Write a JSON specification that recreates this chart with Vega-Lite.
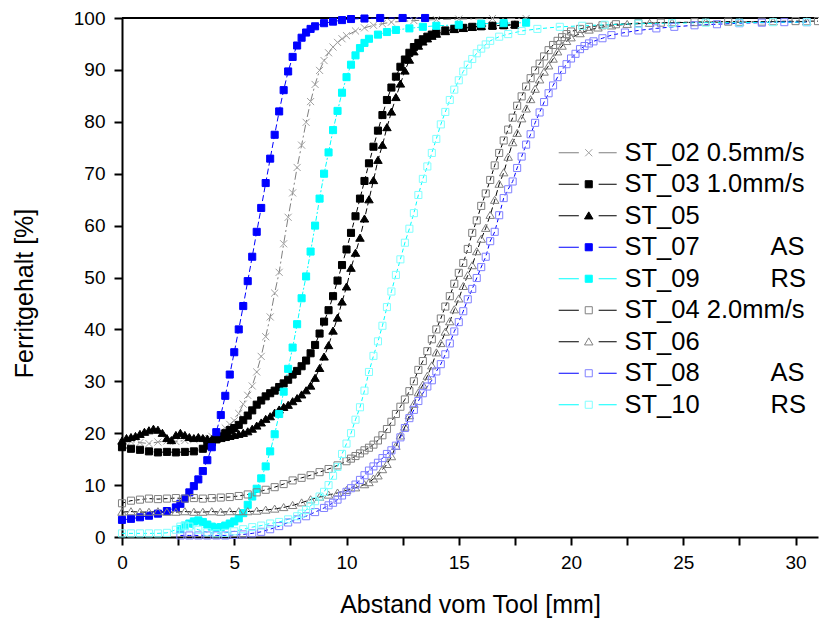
{
"$schema":"https://vega.github.io/schema/vega-lite/v6.json",
"width":696,"height":519,
"autosize":{"type":"none"},
"padding":{"left":122,"top":18,"right":1,"bottom":86},
"background":"white",
"config":{"font":"Liberation Sans","view":{"stroke":null},
"axis":{"domainColor":"black","domainWidth":2,"tickColor":"black","tickWidth":2,"labelColor":"black","titleColor":"black","labelFontSize":19,"titleFontSize":25,"titleFontWeight":"normal","grid":false,"labelFlush":false,"labelOverlap":false}},
"datasets":{"pts":[
{"s":2,"x":0,"y":18.2},{"s":2,"x":0.4,"y":18.4},{"s":2,"x":0.8,"y":18.2},{"s":2,"x":1.2,"y":18.0},{"s":2,"x":1.6,"y":18.3},{"s":2,"x":2.0,"y":18.5},{"s":2,"x":2.4,"y":18.4},{"s":2,"x":2.8,"y":18.6},{"s":2,"x":3.2,"y":18.8},{"s":2,"x":3.6,"y":19.0},{"s":2,"x":4.0,"y":19.4},{"s":2,"x":4.2,"y":19.8},{"s":2,"x":4.4,"y":20.4},{"s":2,"x":4.6,"y":21.0},{"s":2,"x":4.8,"y":21.7},{"s":2,"x":5.0,"y":22.4},{"s":2,"x":5.2,"y":23.8},{"s":2,"x":5.4,"y":25.6},{"s":2,"x":5.6,"y":27.3},{"s":2,"x":5.8,"y":29.1},{"s":2,"x":6.0,"y":31.8},{"s":2,"x":6.2,"y":34.8},{"s":2,"x":6.4,"y":38.6},{"s":2,"x":6.6,"y":42.4},{"s":2,"x":6.8,"y":47.0},{"s":2,"x":7.0,"y":51.0},{"s":2,"x":7.2,"y":56.5},{"s":2,"x":7.4,"y":61.6},{"s":2,"x":7.6,"y":66.3},{"s":2,"x":7.8,"y":71.2},{"s":2,"x":8.0,"y":75.5},{"s":2,"x":8.2,"y":79.9},{"s":2,"x":8.4,"y":83.9},{"s":2,"x":8.6,"y":87.2},{"s":2,"x":8.8,"y":89.9},{"s":2,"x":9.0,"y":91.8},{"s":2,"x":9.2,"y":93.3},{"s":2,"x":9.4,"y":94.4},{"s":2,"x":9.6,"y":95.3},{"s":2,"x":9.8,"y":96.0},{"s":2,"x":10.0,"y":96.6},{"s":2,"x":10.4,"y":97.5},{"s":2,"x":10.8,"y":98.1},{"s":2,"x":11.2,"y":98.6},{"s":2,"x":11.6,"y":98.9},{"s":2,"x":12.0,"y":99.2},{"s":2,"x":13,"y":99.5},{"s":2,"x":14,"y":99.7},{"s":2,"x":15,"y":99.8},{"s":2,"x":16.5,"y":99.9},{"s":2,"x":18,"y":99.9},
{"s":3,"x":0,"y":17.3},{"s":3,"x":0.4,"y":17.0},{"s":3,"x":0.8,"y":16.8},{"s":3,"x":1.2,"y":16.5},{"s":3,"x":1.6,"y":16.3},{"s":3,"x":2.0,"y":16.4},{"s":3,"x":2.4,"y":16.3},{"s":3,"x":2.8,"y":16.4},{"s":3,"x":3.2,"y":16.5},{"s":3,"x":3.6,"y":17.0},{"s":3,"x":3.8,"y":17.6},{"s":3,"x":4.0,"y":18.2},{"s":3,"x":4.2,"y":18.8},{"s":3,"x":4.4,"y":19.4},{"s":3,"x":4.6,"y":20.0},{"s":3,"x":4.8,"y":20.6},{"s":3,"x":5.0,"y":21.0},{"s":3,"x":5.2,"y":21.6},{"s":3,"x":5.4,"y":22.5},{"s":3,"x":5.6,"y":23.4},{"s":3,"x":5.8,"y":24.4},{"s":3,"x":6.0,"y":25.5},{"s":3,"x":6.2,"y":26.3},{"s":3,"x":6.4,"y":27.1},{"s":3,"x":6.6,"y":27.7},{"s":3,"x":6.8,"y":28.2},{"s":3,"x":7.0,"y":28.9},{"s":3,"x":7.2,"y":29.6},{"s":3,"x":7.4,"y":30.3},{"s":3,"x":7.6,"y":31.3},{"s":3,"x":7.8,"y":32.0},{"s":3,"x":8.0,"y":32.9},{"s":3,"x":8.2,"y":34.0},{"s":3,"x":8.4,"y":35.4},{"s":3,"x":8.6,"y":37.0},{"s":3,"x":8.8,"y":39.2},{"s":3,"x":9.0,"y":41.5},{"s":3,"x":9.2,"y":43.7},{"s":3,"x":9.4,"y":46.4},{"s":3,"x":9.6,"y":49.4},{"s":3,"x":9.8,"y":52.4},{"s":3,"x":10.0,"y":55.4},{"s":3,"x":10.2,"y":58.6},{"s":3,"x":10.4,"y":61.8},{"s":3,"x":10.6,"y":65.2},{"s":3,"x":10.8,"y":68.6},{"s":3,"x":11.0,"y":72.0},{"s":3,"x":11.2,"y":75.2},{"s":3,"x":11.4,"y":78.3},{"s":3,"x":11.6,"y":81.3},{"s":3,"x":11.8,"y":84.2},{"s":3,"x":12.0,"y":86.6},{"s":3,"x":12.2,"y":88.7},{"s":3,"x":12.4,"y":90.6},{"s":3,"x":12.6,"y":92.0},{"s":3,"x":12.8,"y":93.3},{"s":3,"x":13.0,"y":94.4},{"s":3,"x":13.2,"y":95.2},{"s":3,"x":13.4,"y":95.9},{"s":3,"x":13.6,"y":96.4},{"s":3,"x":13.8,"y":96.8},{"s":3,"x":14.0,"y":97.1},{"s":3,"x":14.4,"y":97.6},{"s":3,"x":14.8,"y":97.9},{"s":3,"x":15.2,"y":98.1},{"s":3,"x":15.6,"y":98.3},{"s":3,"x":16.0,"y":98.4},{"s":3,"x":16.5,"y":98.5},{"s":3,"x":17.0,"y":98.6},{"s":3,"x":17.5,"y":98.7},
{"s":5,"x":0,"y":18.5},{"s":5,"x":0.2,"y":19.0},{"s":5,"x":0.4,"y":19.2},{"s":5,"x":0.6,"y":19.4},{"s":5,"x":0.8,"y":19.8},{"s":5,"x":1.0,"y":20.2},{"s":5,"x":1.2,"y":20.5},{"s":5,"x":1.4,"y":20.8},{"s":5,"x":1.6,"y":20.6},{"s":5,"x":1.8,"y":20.0},{"s":5,"x":2.0,"y":19.0},{"s":5,"x":2.2,"y":18.6},{"s":5,"x":2.4,"y":19.6},{"s":5,"x":2.6,"y":20.0},{"s":5,"x":2.8,"y":19.6},{"s":5,"x":3.0,"y":19.2},{"s":5,"x":3.2,"y":19.0},{"s":5,"x":3.4,"y":19.2},{"s":5,"x":3.6,"y":19.0},{"s":5,"x":3.8,"y":18.9},{"s":5,"x":4.0,"y":18.8},{"s":5,"x":4.2,"y":18.9},{"s":5,"x":4.4,"y":19.0},{"s":5,"x":4.6,"y":19.2},{"s":5,"x":4.8,"y":19.4},{"s":5,"x":5.0,"y":19.6},{"s":5,"x":5.2,"y":19.8},{"s":5,"x":5.4,"y":20.0},{"s":5,"x":5.6,"y":20.3},{"s":5,"x":5.8,"y":20.8},{"s":5,"x":6.0,"y":21.4},{"s":5,"x":6.2,"y":22.0},{"s":5,"x":6.4,"y":22.7},{"s":5,"x":6.6,"y":23.2},{"s":5,"x":6.8,"y":23.9},{"s":5,"x":7.0,"y":24.5},{"s":5,"x":7.2,"y":25.0},{"s":5,"x":7.4,"y":25.4},{"s":5,"x":7.6,"y":26.1},{"s":5,"x":7.8,"y":26.7},{"s":5,"x":8.0,"y":27.4},{"s":5,"x":8.2,"y":28.2},{"s":5,"x":8.4,"y":29.1},{"s":5,"x":8.6,"y":30.6},{"s":5,"x":8.8,"y":32.5},{"s":5,"x":9.0,"y":34.7},{"s":5,"x":9.2,"y":36.9},{"s":5,"x":9.4,"y":39.7},{"s":5,"x":9.6,"y":42.2},{"s":5,"x":9.8,"y":45.3},{"s":5,"x":10.0,"y":48.2},{"s":5,"x":10.2,"y":51.8},{"s":5,"x":10.4,"y":54.7},{"s":5,"x":10.6,"y":57.6},{"s":5,"x":10.8,"y":61.3},{"s":5,"x":11.0,"y":65.0},{"s":5,"x":11.2,"y":68.7},{"s":5,"x":11.4,"y":72.6},{"s":5,"x":11.6,"y":75.5},{"s":5,"x":11.8,"y":78.9},{"s":5,"x":12.0,"y":81.9},{"s":5,"x":12.2,"y":84.7},{"s":5,"x":12.4,"y":87.3},{"s":5,"x":12.6,"y":89.8},{"s":5,"x":12.8,"y":91.9},{"s":5,"x":13.0,"y":93.5},{"s":5,"x":13.2,"y":94.6},{"s":5,"x":13.4,"y":95.4},{"s":5,"x":13.6,"y":96.0},{"s":5,"x":13.8,"y":96.5},{"s":5,"x":14.0,"y":96.9},{"s":5,"x":14.4,"y":97.4},{"s":5,"x":14.8,"y":97.8},{"s":5,"x":15.2,"y":98.0},{"s":5,"x":15.6,"y":98.2},{"s":5,"x":16.0,"y":98.4},{"s":5,"x":16.5,"y":98.5},{"s":5,"x":17.0,"y":98.6},{"s":5,"x":17.5,"y":98.7},
{"s":7,"x":0,"y":3.3},{"s":7,"x":0.4,"y":3.5},{"s":7,"x":0.8,"y":3.8},{"s":7,"x":1.2,"y":4.1},{"s":7,"x":1.6,"y":4.5},{"s":7,"x":2.0,"y":5.0},{"s":7,"x":2.4,"y":5.7},{"s":7,"x":2.6,"y":6.4},{"s":7,"x":2.8,"y":7.4},{"s":7,"x":3.0,"y":8.6},{"s":7,"x":3.2,"y":9.8},{"s":7,"x":3.4,"y":11.1},{"s":7,"x":3.6,"y":12.7},{"s":7,"x":3.8,"y":14.8},{"s":7,"x":4.0,"y":17.3},{"s":7,"x":4.2,"y":20.2},{"s":7,"x":4.4,"y":23.5},{"s":7,"x":4.6,"y":27.2},{"s":7,"x":4.8,"y":31.3},{"s":7,"x":5.0,"y":35.6},{"s":7,"x":5.2,"y":40.0},{"s":7,"x":5.4,"y":44.5},{"s":7,"x":5.6,"y":49.3},{"s":7,"x":5.8,"y":54.0},{"s":7,"x":6.0,"y":58.8},{"s":7,"x":6.2,"y":63.4},{"s":7,"x":6.4,"y":68.2},{"s":7,"x":6.6,"y":72.9},{"s":7,"x":6.8,"y":77.5},{"s":7,"x":7.0,"y":82.0},{"s":7,"x":7.2,"y":86.1},{"s":7,"x":7.4,"y":89.7},{"s":7,"x":7.6,"y":92.5},{"s":7,"x":7.8,"y":94.7},{"s":7,"x":8.0,"y":96.2},{"s":7,"x":8.2,"y":97.2},{"s":7,"x":8.4,"y":97.9},{"s":7,"x":8.6,"y":98.4},{"s":7,"x":9.0,"y":99.0},{"s":7,"x":9.4,"y":99.3},{"s":7,"x":9.8,"y":99.6},{"s":7,"x":10.2,"y":99.8},{"s":7,"x":10.8,"y":99.9},{"s":7,"x":11.5,"y":100},{"s":7,"x":12.5,"y":100},{"s":7,"x":13.5,"y":100},
{"s":9,"x":2.6,"y":1.5},{"s":9,"x":2.8,"y":2.2},{"s":9,"x":3.0,"y":2.6},{"s":9,"x":3.2,"y":3.0},{"s":9,"x":3.4,"y":3.2},{"s":9,"x":3.6,"y":2.9},{"s":9,"x":3.8,"y":2.4},{"s":9,"x":4.0,"y":2.0},{"s":9,"x":4.2,"y":1.8},{"s":9,"x":4.4,"y":1.9},{"s":9,"x":4.6,"y":2.2},{"s":9,"x":4.8,"y":2.6},{"s":9,"x":5.0,"y":3.0},{"s":9,"x":5.2,"y":3.6},{"s":9,"x":5.4,"y":4.6},{"s":9,"x":5.6,"y":6.2},{"s":9,"x":5.8,"y":7.8},{"s":9,"x":6.0,"y":9.3},{"s":9,"x":6.2,"y":11.3},{"s":9,"x":6.4,"y":13.6},{"s":9,"x":6.6,"y":16.5},{"s":9,"x":6.8,"y":19.8},{"s":9,"x":7.0,"y":23.7},{"s":9,"x":7.2,"y":28.0},{"s":9,"x":7.4,"y":32.4},{"s":9,"x":7.6,"y":36.5},{"s":9,"x":7.8,"y":41.0},{"s":9,"x":8.0,"y":46.0},{"s":9,"x":8.2,"y":50.2},{"s":9,"x":8.4,"y":55.0},{"s":9,"x":8.6,"y":60.0},{"s":9,"x":8.8,"y":65.2},{"s":9,"x":9.0,"y":70.0},{"s":9,"x":9.2,"y":74.1},{"s":9,"x":9.4,"y":78.4},{"s":9,"x":9.6,"y":82.1},{"s":9,"x":9.8,"y":85.6},{"s":9,"x":10.0,"y":88.6},{"s":9,"x":10.2,"y":91.0},{"s":9,"x":10.4,"y":92.8},{"s":9,"x":10.6,"y":94.2},{"s":9,"x":10.8,"y":95.2},{"s":9,"x":11.0,"y":96.0},{"s":9,"x":11.4,"y":96.8},{"s":9,"x":11.8,"y":97.3},{"s":9,"x":12.2,"y":97.7},{"s":9,"x":12.8,"y":98.0},{"s":9,"x":13.4,"y":98.3},{"s":9,"x":14.0,"y":98.5},{"s":9,"x":15,"y":98.7},{"s":9,"x":16,"y":98.9},{"s":9,"x":17,"y":99.0},{"s":9,"x":18,"y":99.1},
{"s":4,"x":0,"y":6.5},{"s":4,"x":0.4,"y":7.0},{"s":4,"x":0.8,"y":7.2},{"s":4,"x":1.2,"y":7.4},{"s":4,"x":1.6,"y":7.3},{"s":4,"x":2.0,"y":7.4},{"s":4,"x":2.4,"y":7.5},{"s":4,"x":2.8,"y":7.4},{"s":4,"x":3.2,"y":7.5},{"s":4,"x":3.6,"y":7.4},{"s":4,"x":4.0,"y":7.5},{"s":4,"x":4.4,"y":7.6},{"s":4,"x":4.8,"y":7.7},{"s":4,"x":5.2,"y":7.9},{"s":4,"x":5.6,"y":8.2},{"s":4,"x":6.0,"y":8.6},{"s":4,"x":6.4,"y":9.1},{"s":4,"x":6.8,"y":9.6},{"s":4,"x":7.2,"y":10.2},{"s":4,"x":7.6,"y":10.9},{"s":4,"x":8.0,"y":11.4},{"s":4,"x":8.4,"y":11.9},{"s":4,"x":8.8,"y":12.5},{"s":4,"x":9.2,"y":13.1},{"s":4,"x":9.6,"y":13.8},{"s":4,"x":10.0,"y":14.6},{"s":4,"x":10.2,"y":15.1},{"s":4,"x":10.4,"y":15.6},{"s":4,"x":10.6,"y":16.1},{"s":4,"x":10.8,"y":16.7},{"s":4,"x":11.0,"y":17.2},{"s":4,"x":11.2,"y":17.8},{"s":4,"x":11.4,"y":18.6},{"s":4,"x":11.6,"y":19.6},{"s":4,"x":11.8,"y":20.8},{"s":4,"x":12.0,"y":22.2},{"s":4,"x":12.2,"y":23.7},{"s":4,"x":12.4,"y":25.1},{"s":4,"x":12.6,"y":26.5},{"s":4,"x":12.8,"y":28.1},{"s":4,"x":13.0,"y":30.0},{"s":4,"x":13.2,"y":32.2},{"s":4,"x":13.4,"y":33.9},{"s":4,"x":13.6,"y":35.8},{"s":4,"x":13.8,"y":38.1},{"s":4,"x":14.0,"y":40.0},{"s":4,"x":14.2,"y":42.1},{"s":4,"x":14.4,"y":44.4},{"s":4,"x":14.6,"y":46.4},{"s":4,"x":14.8,"y":48.8},{"s":4,"x":15.0,"y":50.9},{"s":4,"x":15.2,"y":52.8},{"s":4,"x":15.4,"y":55.5},{"s":4,"x":15.6,"y":58.6},{"s":4,"x":15.8,"y":61.0},{"s":4,"x":16.0,"y":63.8},{"s":4,"x":16.2,"y":66.2},{"s":4,"x":16.4,"y":68.8},{"s":4,"x":16.6,"y":71.6},{"s":4,"x":16.8,"y":74.0},{"s":4,"x":17.0,"y":76.4},{"s":4,"x":17.2,"y":78.5},{"s":4,"x":17.4,"y":80.8},{"s":4,"x":17.6,"y":83.1},{"s":4,"x":17.8,"y":84.9},{"s":4,"x":18.0,"y":86.8},{"s":4,"x":18.2,"y":88.4},{"s":4,"x":18.4,"y":89.9},{"s":4,"x":18.6,"y":91.2},{"s":4,"x":18.8,"y":92.6},{"s":4,"x":19.0,"y":93.8},{"s":4,"x":19.2,"y":94.8},{"s":4,"x":19.4,"y":95.6},{"s":4,"x":19.6,"y":96.3},{"s":4,"x":19.8,"y":96.9},{"s":4,"x":20.0,"y":97.4},{"s":4,"x":20.4,"y":97.9},{"s":4,"x":20.8,"y":98.3},{"s":4,"x":21.4,"y":98.6},{"s":4,"x":22,"y":98.8},{"s":4,"x":23,"y":99.0},{"s":4,"x":24,"y":99.1},{"s":4,"x":25.5,"y":99.2},{"s":4,"x":27,"y":99.3},{"s":4,"x":28.5,"y":99.3},{"s":4,"x":30,"y":99.4},{"s":4,"x":31,"y":99.4},
{"s":6,"x":0,"y":4.8},{"s":6,"x":0.4,"y":4.9},{"s":6,"x":0.8,"y":4.8},{"s":6,"x":1.2,"y":4.8},{"s":6,"x":1.6,"y":4.9},{"s":6,"x":2.0,"y":4.8},{"s":6,"x":2.4,"y":4.8},{"s":6,"x":2.8,"y":4.9},{"s":6,"x":3.2,"y":4.8},{"s":6,"x":3.6,"y":4.8},{"s":6,"x":4.0,"y":4.9},{"s":6,"x":4.4,"y":4.8},{"s":6,"x":4.8,"y":4.9},{"s":6,"x":5.2,"y":4.9},{"s":6,"x":5.6,"y":4.9},{"s":6,"x":6.0,"y":5.0},{"s":6,"x":6.4,"y":5.2},{"s":6,"x":6.8,"y":5.4},{"s":6,"x":7.2,"y":5.7},{"s":6,"x":7.6,"y":6.1},{"s":6,"x":8.0,"y":6.6},{"s":6,"x":8.4,"y":7.2},{"s":6,"x":8.8,"y":7.7},{"s":6,"x":9.2,"y":8.1},{"s":6,"x":9.6,"y":8.5},{"s":6,"x":10.0,"y":9.0},{"s":6,"x":10.4,"y":9.5},{"s":6,"x":10.8,"y":10.1},{"s":6,"x":11.0,"y":10.5},{"s":6,"x":11.2,"y":11.2},{"s":6,"x":11.4,"y":11.8},{"s":6,"x":11.6,"y":13.0},{"s":6,"x":11.8,"y":14.0},{"s":6,"x":12.0,"y":15.5},{"s":6,"x":12.2,"y":17.5},{"s":6,"x":12.4,"y":19.5},{"s":6,"x":12.6,"y":21.2},{"s":6,"x":12.8,"y":23.4},{"s":6,"x":13.0,"y":25.6},{"s":6,"x":13.2,"y":27.8},{"s":6,"x":13.4,"y":29.3},{"s":6,"x":13.6,"y":31.0},{"s":6,"x":13.8,"y":33.0},{"s":6,"x":14.0,"y":35.5},{"s":6,"x":14.2,"y":37.3},{"s":6,"x":14.4,"y":39.5},{"s":6,"x":14.6,"y":41.5},{"s":6,"x":14.8,"y":43.8},{"s":6,"x":15.0,"y":45.9},{"s":6,"x":15.2,"y":48.3},{"s":6,"x":15.4,"y":50.4},{"s":6,"x":15.6,"y":52.3},{"s":6,"x":15.8,"y":55.0},{"s":6,"x":16.0,"y":57.4},{"s":6,"x":16.2,"y":59.5},{"s":6,"x":16.4,"y":62.0},{"s":6,"x":16.6,"y":64.9},{"s":6,"x":16.8,"y":68.0},{"s":6,"x":17.0,"y":70.2},{"s":6,"x":17.2,"y":73.2},{"s":6,"x":17.4,"y":76.0},{"s":6,"x":17.6,"y":77.8},{"s":6,"x":17.8,"y":80.6},{"s":6,"x":18.0,"y":82.5},{"s":6,"x":18.2,"y":84.3},{"s":6,"x":18.4,"y":86.3},{"s":6,"x":18.6,"y":88.1},{"s":6,"x":18.8,"y":89.6},{"s":6,"x":19.0,"y":90.8},{"s":6,"x":19.2,"y":92.1},{"s":6,"x":19.4,"y":93.5},{"s":6,"x":19.6,"y":94.6},{"s":6,"x":19.8,"y":95.5},{"s":6,"x":20.0,"y":96.2},{"s":6,"x":20.4,"y":97.0},{"s":6,"x":20.8,"y":97.7},{"s":6,"x":21.2,"y":98.1},{"s":6,"x":21.8,"y":98.5},{"s":6,"x":22.5,"y":98.8},{"s":6,"x":23.5,"y":99.0},{"s":6,"x":24.5,"y":99.1},{"s":6,"x":26,"y":99.2},{"s":6,"x":27.5,"y":99.2},{"s":6,"x":29,"y":99.3},{"s":6,"x":30.5,"y":99.3},
{"s":8,"x":2.6,"y":0.3},{"s":8,"x":3.0,"y":0.3},{"s":8,"x":3.4,"y":0.3},{"s":8,"x":3.8,"y":0.3},{"s":8,"x":4.2,"y":0.3},{"s":8,"x":4.6,"y":0.3},{"s":8,"x":5.0,"y":0.4},{"s":8,"x":5.4,"y":0.5},{"s":8,"x":5.8,"y":0.7},{"s":8,"x":6.2,"y":1.0},{"s":8,"x":6.6,"y":1.5},{"s":8,"x":7.0,"y":2.1},{"s":8,"x":7.4,"y":2.8},{"s":8,"x":7.8,"y":3.4},{"s":8,"x":8.2,"y":4.0},{"s":8,"x":8.6,"y":4.8},{"s":8,"x":9.0,"y":5.6},{"s":8,"x":9.2,"y":6.1},{"s":8,"x":9.4,"y":6.6},{"s":8,"x":9.6,"y":7.2},{"s":8,"x":9.8,"y":8.0},{"s":8,"x":10.0,"y":8.7},{"s":8,"x":10.2,"y":9.4},{"s":8,"x":10.4,"y":10.1},{"s":8,"x":10.6,"y":11.0},{"s":8,"x":10.8,"y":11.9},{"s":8,"x":11.0,"y":12.8},{"s":8,"x":11.2,"y":13.6},{"s":8,"x":11.4,"y":14.3},{"s":8,"x":11.6,"y":15.2},{"s":8,"x":11.8,"y":16.0},{"s":8,"x":12.0,"y":16.7},{"s":8,"x":12.2,"y":17.6},{"s":8,"x":12.4,"y":19.2},{"s":8,"x":12.6,"y":21.0},{"s":8,"x":12.8,"y":22.9},{"s":8,"x":13.0,"y":24.5},{"s":8,"x":13.2,"y":26.2},{"s":8,"x":13.4,"y":27.7},{"s":8,"x":13.6,"y":29.0},{"s":8,"x":13.8,"y":30.2},{"s":8,"x":14.0,"y":31.9},{"s":8,"x":14.2,"y":33.3},{"s":8,"x":14.4,"y":35.2},{"s":8,"x":14.6,"y":37.3},{"s":8,"x":14.8,"y":39.6},{"s":8,"x":15.0,"y":41.4},{"s":8,"x":15.2,"y":43.5},{"s":8,"x":15.4,"y":45.8},{"s":8,"x":15.6,"y":47.8},{"s":8,"x":15.8,"y":49.9},{"s":8,"x":16.0,"y":52.0},{"s":8,"x":16.2,"y":54.0},{"s":8,"x":16.4,"y":57.0},{"s":8,"x":16.6,"y":58.8},{"s":8,"x":16.8,"y":62.0},{"s":8,"x":17.0,"y":65.3},{"s":8,"x":17.2,"y":67.0},{"s":8,"x":17.4,"y":68.5},{"s":8,"x":17.6,"y":71.1},{"s":8,"x":17.8,"y":73.3},{"s":8,"x":18.0,"y":75.6},{"s":8,"x":18.2,"y":77.6},{"s":8,"x":18.4,"y":79.8},{"s":8,"x":18.6,"y":81.8},{"s":8,"x":18.8,"y":83.8},{"s":8,"x":19.0,"y":85.5},{"s":8,"x":19.2,"y":87.0},{"s":8,"x":19.4,"y":88.6},{"s":8,"x":19.6,"y":90.0},{"s":8,"x":19.8,"y":91.1},{"s":8,"x":20.0,"y":92.2},{"s":8,"x":20.2,"y":93.1},{"s":8,"x":20.4,"y":94.0},{"s":8,"x":20.6,"y":94.6},{"s":8,"x":20.8,"y":95.1},{"s":8,"x":21.0,"y":95.5},{"s":8,"x":21.4,"y":96.1},{"s":8,"x":21.8,"y":96.7},{"s":8,"x":22.4,"y":97.2},{"s":8,"x":23,"y":97.6},{"s":8,"x":23.8,"y":98.0},{"s":8,"x":24.6,"y":98.3},{"s":8,"x":25.5,"y":98.6},{"s":8,"x":26.5,"y":98.8},{"s":8,"x":27.5,"y":99.0},{"s":8,"x":28.5,"y":99.1},{"s":8,"x":29.5,"y":99.2},{"s":8,"x":30.5,"y":99.2},
{"s":10,"x":0,"y":0.7},{"s":10,"x":0.4,"y":0.7},{"s":10,"x":0.8,"y":0.7},{"s":10,"x":1.2,"y":0.7},{"s":10,"x":1.6,"y":0.7},{"s":10,"x":2.0,"y":0.8},{"s":10,"x":2.4,"y":1.4},{"s":10,"x":2.6,"y":2.0},{"s":10,"x":2.8,"y":2.2},{"s":10,"x":3.0,"y":2.0},{"s":10,"x":3.4,"y":1.4},{"s":10,"x":3.8,"y":0.9},{"s":10,"x":4.2,"y":0.7},{"s":10,"x":4.6,"y":0.8},{"s":10,"x":5.0,"y":1.1},{"s":10,"x":5.4,"y":1.5},{"s":10,"x":5.8,"y":1.9},{"s":10,"x":6.2,"y":2.2},{"s":10,"x":6.6,"y":2.6},{"s":10,"x":7.0,"y":2.9},{"s":10,"x":7.4,"y":3.4},{"s":10,"x":7.8,"y":4.0},{"s":10,"x":8.0,"y":4.5},{"s":10,"x":8.2,"y":5.2},{"s":10,"x":8.4,"y":6.0},{"s":10,"x":8.6,"y":6.9},{"s":10,"x":8.8,"y":7.8},{"s":10,"x":9.0,"y":8.7},{"s":10,"x":9.2,"y":10.0},{"s":10,"x":9.4,"y":11.8},{"s":10,"x":9.6,"y":13.5},{"s":10,"x":9.8,"y":16.0},{"s":10,"x":10.0,"y":18.0},{"s":10,"x":10.2,"y":20.0},{"s":10,"x":10.4,"y":22.6},{"s":10,"x":10.6,"y":25.0},{"s":10,"x":10.8,"y":28.2},{"s":10,"x":11.0,"y":31.8},{"s":10,"x":11.2,"y":34.9},{"s":10,"x":11.4,"y":37.7},{"s":10,"x":11.6,"y":40.7},{"s":10,"x":11.8,"y":44.3},{"s":10,"x":12.0,"y":47.3},{"s":10,"x":12.2,"y":50.5},{"s":10,"x":12.4,"y":53.5},{"s":10,"x":12.6,"y":56.7},{"s":10,"x":12.8,"y":59.4},{"s":10,"x":13.0,"y":62.4},{"s":10,"x":13.2,"y":65.9},{"s":10,"x":13.4,"y":69.0},{"s":10,"x":13.6,"y":71.4},{"s":10,"x":13.8,"y":74.0},{"s":10,"x":14.0,"y":76.7},{"s":10,"x":14.2,"y":79.5},{"s":10,"x":14.4,"y":81.9},{"s":10,"x":14.6,"y":84.2},{"s":10,"x":14.8,"y":86.2},{"s":10,"x":15.0,"y":88.0},{"s":10,"x":15.2,"y":89.7},{"s":10,"x":15.4,"y":91.0},{"s":10,"x":15.6,"y":92.1},{"s":10,"x":15.8,"y":93.2},{"s":10,"x":16.0,"y":94.1},{"s":10,"x":16.2,"y":94.9},{"s":10,"x":16.4,"y":95.6},{"s":10,"x":16.8,"y":96.4},{"s":10,"x":17.2,"y":96.9},{"s":10,"x":17.8,"y":97.5},{"s":10,"x":18.5,"y":97.9},{"s":10,"x":19.5,"y":98.3},{"s":10,"x":20.5,"y":98.5},{"s":10,"x":21.5,"y":98.7},{"s":10,"x":23,"y":98.9},{"s":10,"x":24.5,"y":99.0},{"s":10,"x":26,"y":99.1},{"s":10,"x":27.5,"y":99.1},{"s":10,"x":29,"y":99.2},{"s":10,"x":30.5,"y":99.2}
]},
"layer":[
{"data":{"values":[{}]},"mark":{"type":"rule","color":"black","strokeWidth":2},"encoding":{"y":{"datum":100,"type":"quantitative"}}},
{"data":{"name":"pts"},"mark":{"type":"line","strokeWidth":1},
"encoding":{
"x":{"field":"x","type":"quantitative","scale":{"domain":[0,31],"nice":false,"zero":false},
"axis":{"values":[0,2.5,5,7.5,10,12.5,15,17.5,20,22.5,25,27.5,30],"labelExpr":"datum.value % 5 == 0 ? datum.label : ''","tickSize":8,"labelPadding":8,"title":"Abstand vom Tool [mm]","titlePadding":20}},
"y":{"field":"y","type":"quantitative","scale":{"domain":[0,100],"nice":false},
"axis":{"values":[0,5,10,15,20,25,30,35,40,45,50,55,60,65,70,75,80,85,90,95,100],"labelExpr":"datum.value % 10 == 0 ? datum.label : ''","tickSize":8,"labelPadding":9,"title":"Ferritgehalt [%]","titlePadding":36,"titleY":275}},
"color":{"field":"s","type":"nominal","scale":{"domain":[2,3,5,7,9,4,6,8,10,99],"range":["#808080","#000000","#000000","#0000ff","#00ffff","#000000","#000000","#0000ff","#00ffff","transparent"]},
"legend":{"orient":"none","legendX":454,"legendY":122,"title":null,"padding":0,"labelFontSize":25.5,"labelLimit":500,"labelOffset":23,"rowPadding":4.5,"symbolSize":50,"symbolStrokeWidth":1.2,"symbolType":"M-8.5,0H-2.8M2.8,0H7.9","labelColor":"transparent","labelExpr":"datum.label == '99' ? '' : 'ST_02 0.5mm/s'"}},
"strokeDash":{"field":"s","type":"nominal","scale":{"domain":[2,3,5,7,9,4,6,8,10,98],"range":[[8,3,2,3],[5,3],[6,3],[6,3],[5,2,2,2],[4,3],[6,3],[4,3],[4,3],[1,0]]},"legend":null}
}},
{"data":{"name":"pts"},"mark":{"type":"point","size":50,"strokeWidth":1,"opacity":1},
"encoding":{
"x":{"field":"x","type":"quantitative"},
"y":{"field":"y","type":"quantitative"},
"fill":{"field":"s","type":"nominal","scale":{"domain":[2,3,5,7,9,4,6,8,10],"range":["transparent","#000000","#000000","#0000ff","#00ffff","transparent","transparent","transparent","transparent"]}},
"stroke":{"field":"s","type":"nominal","scale":{"domain":[2,3,5,7,9,4,6,8,10],"range":["#a0a0a0","#000000","#000000","#0000ff","#00ffff","#808080","#808080","#8080ff","#80ffff"]}},
"shape":{"field":"s","type":"nominal","scale":{"domain":[2,3,5,7,9,4,6,8,10],"range":["M-1,-1L1,1M-1,1L1,-1","M-1,-1H1V1H-1Z","M0,-1.1L1.2,0.9H-1.2Z","M-1,-1H1V1H-1Z","M-1,-1H1V1H-1Z","M-1,-1H1V1H-1Z","M0,-1.1L1.2,0.9H-1.2Z","M-1,-1H1V1H-1Z","M-1,-1H1V1H-1Z"]},
"legend":{"orient":"none","legendX":454,"legendY":122,"title":null,"padding":0,"labelFontSize":25.5,"labelLimit":500,"labelOffset":23,"rowPadding":4.5,"symbolSize":50,"symbolStrokeWidth":1,"labelColor":"black",
"labelExpr":"datum.label == '2' ? 'ST_02 0.5mm/s' : datum.label == '3' ? 'ST_03 1.0mm/s' : datum.label == '5' ? 'ST_05' : datum.label == '7' ? 'ST_07\u00a0\u00a0\u00a0\u00a0\u00a0\u00a0\u00a0\u00a0\u00a0\u00a0AS' : datum.label == '9' ? 'ST_09\u00a0\u00a0\u00a0\u00a0\u00a0\u00a0\u00a0\u00a0\u00a0\u00a0RS' : datum.label == '4' ? 'ST_04 2.0mm/s' : datum.label == '6' ? 'ST_06' : datum.label == '8' ? 'ST_08\u00a0\u00a0\u00a0\u00a0\u00a0\u00a0\u00a0\u00a0\u00a0\u00a0AS' : 'ST_10\u00a0\u00a0\u00a0\u00a0\u00a0\u00a0\u00a0\u00a0\u00a0\u00a0RS'"}}
}}
]
}
